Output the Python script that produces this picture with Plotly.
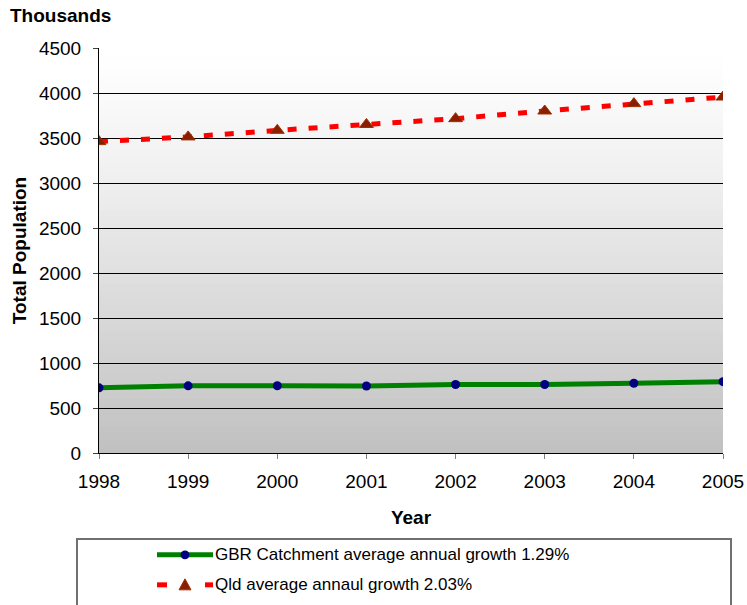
import plotly.graph_objects as go

years = [1998, 1999, 2000, 2001, 2002, 2003, 2004, 2005]
gbr = [724, 746, 747, 745, 761, 761, 775, 793]
qld = [3460, 3512, 3585, 3650, 3715, 3800, 3882, 3955]
gbr_name = "GBR Catchment average annual growth 1.29%"
qld_name = "Qld average annaul growth 2.03%"

FONT = "Liberation Sans, Arial, sans-serif"
FS = 19
FSL = 17

# plot-area pixel geometry
L, R, T, B = 99, 723, 47.5, 453
PW, PH = R - L, B - T


def px(x):
    return (x - L) / PW


def py(y):
    return (B - y) / PH


fig = go.Figure()
fig.add_trace(go.Scatter(
    x=years, y=gbr, name=gbr_name, mode="lines+markers",
    line=dict(color="#008000", width=5),
    marker=dict(color="#000080", size=9, symbol="circle"),
))
fig.add_trace(go.Scatter(
    x=years, y=qld, name=qld_name, mode="lines+markers",
    line=dict(color="#ff0000", width=5, dash="9px,12px"),
    marker=dict(color="#8c1e00", size=12, symbol="triangle-up",
                line=dict(color="#a03000", width=1)),
))

# gradient plot background (white top -> grey bottom)
shapes = []
N = 60
for i in range(N):
    t = (i + 0.5) / N  # 0 at bottom
    tt = 1 - t
    v = int(round(255 - 63 * (tt ** 1.2)))
    col = f"rgb({v},{v},{v})"
    shapes.append(dict(type="rect", xref="x domain", yref="y domain",
                       x0=0, x1=1, y0=i / N, y1=(i + 1) / N + 0.002,
                       fillcolor=col, line=dict(width=0), layer="below"))

# legend box
shapes.append(dict(type="rect", xref="paper", yref="paper",
                   x0=px(77), x1=px(731), y0=py(640), y1=py(539),
                   line=dict(color="#707070", width=2), fillcolor="rgba(0,0,0,0)"))
# legend symbols
y1, y2 = 555, 585
shapes.append(dict(type="line", xref="paper", yref="paper",
                   x0=px(157), x1=px(213), y0=py(y1), y1=py(y1),
                   line=dict(color="#008000", width=5)))
shapes.append(dict(type="circle", xref="paper", yref="paper",
                   x0=px(180.5), x1=px(189.5), y0=py(y1 + 4.5), y1=py(y1 - 4.5),
                   fillcolor="#000080", line=dict(width=0)))
shapes.append(dict(type="line", xref="paper", yref="paper",
                   x0=px(157), x1=px(167), y0=py(y2), y1=py(y2),
                   line=dict(color="#ff0000", width=5)))
shapes.append(dict(type="line", xref="paper", yref="paper",
                   x0=px(205), x1=px(213), y0=py(y2), y1=py(y2),
                   line=dict(color="#ff0000", width=5)))
tri = (f"M {px(185)},{py(y2 - 6)} L {px(179)},{py(y2 + 5)} "
       f"L {px(191)},{py(y2 + 5)} Z")
shapes.append(dict(type="path", xref="paper", yref="paper", path=tri,
                   fillcolor="#8c1e00", line=dict(color="#a03000", width=1)))

annotations = [
    dict(text="<b>Thousands</b>", xref="paper", yref="paper",
         x=px(8), y=py(15), xanchor="left", yanchor="middle", showarrow=False,
         font=dict(family=FONT, size=FS)),
    dict(text=gbr_name, xref="paper", yref="paper",
         x=px(213), y=py(y1), xanchor="left", yanchor="middle", showarrow=False,
         font=dict(family=FONT, size=FSL)),
    dict(text=qld_name, xref="paper", yref="paper",
         x=px(213), y=py(y2), xanchor="left", yanchor="middle", showarrow=False,
         font=dict(family=FONT, size=FSL)),
]

fig.update_layout(
    width=747, height=605,
    margin=dict(l=L, r=747 - R, t=T, b=605 - B, autoexpand=False),
    paper_bgcolor="white", plot_bgcolor="rgba(0,0,0,0)",
    font=dict(family=FONT, size=FS, color="black"),
    shapes=shapes,
    showlegend=False,
    annotations=annotations,
)
fig.update_xaxes(
    range=[1998, 2005], tickmode="array", tickvals=years,
    ticktext=[str(y) for y in years],
    showgrid=False, showline=True, linecolor="black", linewidth=1,
    ticks="outside", ticklen=5, tickcolor="#808080",
    ticklabelstandoff=6, automargin=False,
    title=dict(text="<b>Year</b>", font=dict(family=FONT, size=FS), standoff=19),
    zeroline=False,
)
fig.update_yaxes(
    range=[0, 4500], dtick=500, tick0=0,
    showgrid=True, gridcolor="#000000", gridwidth=1,
    showline=True, linecolor="black", linewidth=1,
    ticks="outside", ticklen=5, tickcolor="#404040",
    ticklabelstandoff=8, automargin=False,
    title=dict(text="<b>Total Population</b>", font=dict(family=FONT, size=FS), standoff=7),
    zeroline=False,
)
fig.write_html("out.html")
